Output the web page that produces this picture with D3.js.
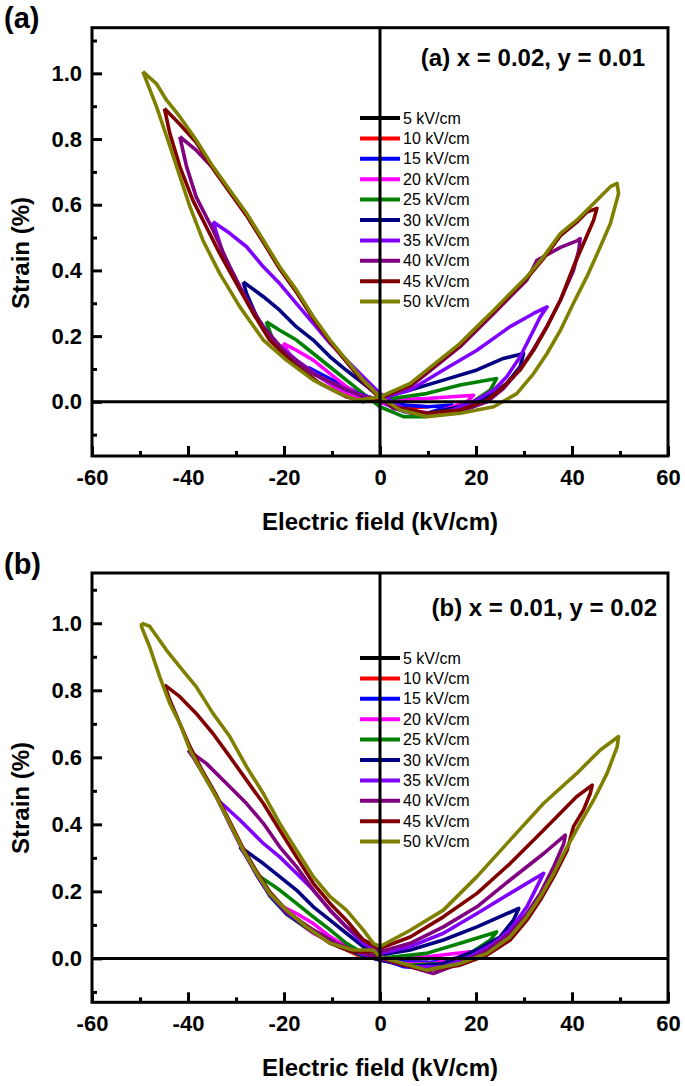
<!DOCTYPE html>
<html><head><meta charset="utf-8">
<script src="https://cdn.jsdelivr.net/npm/d3@7"></script>
<style>body{margin:0;background:#fff}text{font-family:"Liberation Sans",Arial,sans-serif}</style>
</head><body><svg id="c" width="685" height="1086"></svg>
<script>
// ---------- data ----------
const fieldLabels = ["5 kV/cm","10 kV/cm","15 kV/cm","20 kV/cm","25 kV/cm","30 kV/cm","35 kV/cm","40 kV/cm","45 kV/cm","50 kV/cm"];
const seriesColors = ["#000000","#ff0000","#0000ff","#ff00ff","#008000","#000080","#8000ff","#800080","#800000","#808000"];
const xMajorTicks = [-60,-40,-20,0,20,40,60];
const xMinorTicks = [-50,-30,-10,10,30,50];
const yMajorTicks = [0,0.2,0.4,0.6,0.8,1.0];
const yMinorTicks = [-0.1,0.1,0.3,0.5,0.7,0.9,1.1];
const panelLetters = ["(a)","(b)"];
const compositions = ["(a) x = 0.02, y = 0.01","(b) x = 0.01, y = 0.02"];
const xTitle = "Electric field (kV/cm)";
const yTitle = "Strain (%)";

// panel (a) loops  [E (kV/cm), strain (%)]
const a5 = [[-5,0.012],[0,0],[5,-0.01],[0,0.003],[-5,0.012]];
const a10 = [[-10,0.05],[-5,0.02],[0,0],[5,-0.02],[10,-0.015],[5,-0.012],[0,0.002],[-5,0.014],[-10,0.05]];
const a15 = [[-15,0.105],[-10.4,0.07],[-5,0.03],[0,0],[5,-0.03],[10,-0.035],[15,-0.01],[10,-0.015],[5,-0.01],[0,0.005],[-5,0.02],[-10.4,0.055],[-15,0.105]];
const a20 = [[-20.2,0.178],[-17.4,0.157],[-13.9,0.127],[-10.4,0.086],[-7,0.046],[-3.5,0.015],[0,0],[4.9,-0.025],[11.1,-0.035],[18.1,0],[19.5,0.02],[9.7,0.01],[0,0.005],[-3.5,0.01],[-8.3,0.036],[-13.9,0.086],[-18.1,0.127],[-20.2,0.178]];
const a25 = [[-23.7,0.244],[-20.9,0.218],[-17.4,0.188],[-13.9,0.147],[-10.4,0.106],[-7,0.066],[-3.5,0.025],[0,-0.015],[4.9,-0.045],[9.7,-0.045],[18.8,-0.005],[23,0.036],[24.3,0.071],[16.7,0.051],[9.7,0.025],[0,0.005],[-3.5,0.015],[-8.3,0.046],[-13.9,0.086],[-18.8,0.137],[-22.3,0.188],[-23.7,0.244]];
const a30 = [[-28.5,0.365],[-24.3,0.32],[-20.9,0.279],[-17.4,0.228],[-13.9,0.188],[-10.4,0.137],[-7,0.096],[-3.5,0.056],[0,0.015],[2.8,-0.015],[9.7,-0.035],[16.7,-0.015],[22.3,0.015],[26.4,0.056],[29.2,0.107],[29.9,0.147],[25.7,0.132],[20.2,0.097],[13.2,0.066],[6.3,0.036],[0,0.01],[-1.4,0.01],[-7,0.036],[-13.9,0.086],[-19.5,0.147],[-23.7,0.208],[-25.7,0.259],[-27.8,0.33],[-28.5,0.365]];
const a35 = [[-34.8,0.548],[-31.3,0.513],[-27.8,0.472],[-24.3,0.411],[-20.9,0.36],[-17.4,0.299],[-13.9,0.239],[-10.4,0.178],[-7,0.127],[-3.5,0.076],[0,0.025],[6.3,-0.035],[13.2,-0.035],[18.8,-0.005],[23.7,0.036],[26.4,0.076],[29.2,0.137],[31.3,0.198],[33.4,0.259],[34.8,0.289],[32,0.269],[27.1,0.229],[20.2,0.157],[13.2,0.097],[6.3,0.036],[0,0.01],[-1.4,0.01],[-7,0.036],[-12.5,0.076],[-17.4,0.127],[-22.3,0.188],[-25.7,0.259],[-29.2,0.35],[-32.7,0.452],[-34.8,0.548]];
const a40 = [[-41.7,0.807],[-38.3,0.766],[-34.8,0.712],[-31.3,0.64],[-27.8,0.569],[-24.3,0.487],[-20.9,0.406],[-17.4,0.335],[-13.9,0.254],[-10.4,0.183],[-7,0.122],[-3.5,0.061],[0,0.012],[2.8,-0.02],[9.7,-0.04],[16.7,-0.03],[22.3,0],[25.7,0.04],[29.2,0.1],[32,0.16],[34.8,0.23],[37.6,0.31],[40.3,0.4],[41.4,0.46],[41.7,0.497],[41,0.49],[37.6,0.47],[32.7,0.431],[30.6,0.371],[23.7,0.269],[16.7,0.168],[13.2,0.127],[6.3,0.046],[0,0.01],[-3.5,0.015],[-8.3,0.046],[-13.9,0.086],[-19.5,0.147],[-24.3,0.228],[-27.8,0.31],[-31.3,0.411],[-34.8,0.523],[-38.3,0.624],[-40.3,0.716],[-41.7,0.807]];
const a45 = [[-44.9,0.893],[-41.7,0.845],[-38.3,0.79],[-34.8,0.71],[-31.3,0.638],[-27.8,0.567],[-24.3,0.486],[-20.9,0.405],[-17.4,0.334],[-13.9,0.253],[-10.4,0.183],[-7,0.122],[-3.5,0.061],[0,0.012],[2.8,-0.015],[9.7,-0.035],[16.7,-0.025],[22.3,0.005],[25,0.036],[29.2,0.097],[32,0.157],[34.8,0.229],[37.6,0.31],[40.3,0.411],[42.4,0.482],[44.5,0.553],[45.2,0.589],[43.1,0.578],[41,0.547],[37.6,0.506],[34.1,0.437],[30.6,0.376],[27.1,0.325],[23.7,0.274],[20.2,0.224],[16.7,0.173],[13.2,0.132],[6.3,0.051],[0,0.012],[-3.5,0],[-7,0.015],[-12.5,0.056],[-18.1,0.117],[-23,0.188],[-26.4,0.269],[-29.9,0.36],[-33.4,0.452],[-36.2,0.533],[-39,0.614],[-41.7,0.716],[-43.8,0.818],[-44.9,0.893]];
const a50 = [[-49.4,1.005],[-46.6,0.969],[-44.5,0.919],[-41.7,0.868],[-38.3,0.797],[-34.8,0.716],[-31.3,0.645],[-27.8,0.574],[-24.3,0.492],[-20.9,0.411],[-17.4,0.34],[-13.9,0.259],[-10.4,0.188],[-7,0.127],[-3.5,0.066],[0,0.015],[4.2,-0.025],[9.7,-0.045],[16.7,-0.035],[23.7,-0.015],[28.5,0.025],[32,0.086],[34.8,0.147],[37.6,0.218],[40.3,0.3],[43.1,0.381],[45.9,0.472],[48,0.543],[49.7,0.634],[49.4,0.665],[48,0.655],[44.5,0.604],[41,0.553],[37.6,0.513],[34.1,0.442],[30.6,0.381],[27.1,0.33],[23.7,0.279],[20.2,0.229],[16.7,0.178],[13.2,0.137],[6.3,0.056],[0,0.015],[-4.9,0.005],[-8.3,0.025],[-13.9,0.066],[-19.5,0.127],[-24.3,0.188],[-29.2,0.289],[-33.4,0.391],[-36.9,0.492],[-39.6,0.594],[-44.2,0.797],[-46.6,0.9],[-49,0.99],[-49.4,1.005]];

// panel (b) loops
const b5 = [[-5,0.012],[0,0],[5,-0.01],[0,0.003],[-5,0.012]];
const b10 = [[-10,0.045],[-5,0.018],[0,0],[5,-0.02],[10,-0.012],[5,-0.01],[0,0.002],[-5,0.012],[-10,0.045]];
const b15 = [[-15,0.09],[-10.4,0.058],[-5,0.025],[0,0],[5,-0.025],[10,-0.03],[15,-0.005],[10,-0.012],[5,-0.01],[0,0.003],[-5,0.016],[-10.4,0.048],[-15,0.09]];
const b20 = [[-20.2,0.154],[-17.4,0.134],[-13.9,0.104],[-10.4,0.065],[-7,0.035],[-3.5,0.015],[0,0],[9.7,0.005],[18.8,0.02],[16.7,0.005],[11.1,-0.015],[4.9,-0.015],[0,-0.005],[-3.5,0.008],[-8.3,0.033],[-13.9,0.075],[-18.1,0.119],[-20.2,0.154]];
const b25 = [[-25,0.244],[-20.9,0.204],[-17.4,0.164],[-13.9,0.124],[-10.4,0.085],[-7,0.045],[-3.5,0.015],[0,0],[9.7,0.015],[16.7,0.045],[24.3,0.079],[23,0.055],[18.8,0.015],[13.2,-0.015],[6.3,-0.02],[0,-0.005],[-3.5,0.008],[-8.3,0.033],[-13.9,0.078],[-19.5,0.132],[-23,0.187],[-25,0.244]];
const b30 = [[-29.2,0.333],[-24.3,0.283],[-20.9,0.244],[-17.4,0.204],[-13.9,0.154],[-10.4,0.114],[-7,0.075],[-3.5,0.035],[0,0.01],[6.3,0.025],[13.2,0.055],[20.2,0.094],[28.9,0.149],[27.8,0.114],[25,0.064],[20.2,0.025],[13.2,-0.015],[6.3,-0.025],[0,-0.005],[-3.5,0.01],[-8.3,0.035],[-13.9,0.08],[-19.5,0.134],[-23,0.189],[-25.7,0.249],[-27.8,0.303],[-29.2,0.333]];
const b35 = [[-33.7,0.472],[-29.2,0.413],[-24.3,0.343],[-20.9,0.303],[-17.4,0.254],[-13.9,0.204],[-10.4,0.144],[-7,0.094],[-3.5,0.045],[0,0.015],[6.3,0.035],[13.2,0.075],[20.2,0.134],[27.1,0.194],[34.1,0.254],[32.7,0.214],[30.6,0.154],[27.1,0.085],[23.7,0.045],[18.8,0.005],[13.2,-0.025],[6.3,-0.025],[0,0],[-3.5,0.012],[-8.3,0.037],[-13.9,0.082],[-19.5,0.136],[-23,0.191],[-25.7,0.251],[-28.5,0.32],[-31.3,0.4],[-33.7,0.472]];
const b40 = [[-40,0.622],[-36.2,0.582],[-31.3,0.512],[-27.8,0.462],[-24.3,0.403],[-20.9,0.333],[-17.4,0.274],[-13.9,0.204],[-10.4,0.144],[-7,0.094],[-3.5,0.055],[0,0.02],[6.3,0.045],[13.2,0.094],[20.2,0.154],[27.1,0.234],[34.1,0.313],[38.6,0.368],[38.3,0.343],[36.2,0.274],[33.4,0.194],[30.6,0.134],[27.1,0.075],[22.3,0.025],[16.7,-0.015],[11.1,-0.045],[6.3,-0.025],[0,0],[-3.5,0.015],[-8.3,0.04],[-13.9,0.085],[-19.5,0.139],[-23,0.194],[-25.7,0.254],[-28.5,0.323],[-31.3,0.403],[-34.1,0.482],[-36.9,0.552],[-39,0.602],[-40,0.622]];
const b45 = [[-44.9,0.816],[-41.7,0.781],[-38.3,0.731],[-34.8,0.671],[-31.3,0.602],[-27.8,0.532],[-24.3,0.462],[-20.9,0.383],[-17.4,0.303],[-13.9,0.224],[-10.4,0.164],[-7,0.114],[-3.5,0.055],[0,0.03],[6.3,0.064],[13.2,0.124],[20.2,0.194],[27.1,0.283],[34.1,0.383],[41,0.483],[44.2,0.517],[43.8,0.492],[42.4,0.443],[40.3,0.393],[39,0.323],[36.2,0.244],[33.4,0.174],[30.6,0.114],[27.1,0.055],[22.3,0.01],[16.7,-0.02],[9.7,-0.035],[4.9,-0.02],[0,0.005],[-1.4,0.02],[-5.6,0.02],[-10.4,0.045],[-15.3,0.094],[-19.5,0.144],[-23,0.199],[-25.7,0.259],[-28.5,0.328],[-31.3,0.408],[-34.1,0.487],[-36.9,0.557],[-39.6,0.632],[-41.7,0.701],[-43.8,0.771],[-44.9,0.816]];
const b50 = [[-49.7,1.0],[-48,0.991],[-44.5,0.92],[-41.7,0.87],[-38.3,0.811],[-34.8,0.731],[-31.3,0.662],[-27.8,0.572],[-24.3,0.492],[-20.9,0.403],[-17.4,0.323],[-13.9,0.244],[-10.4,0.184],[-7,0.144],[-3.5,0.085],[-1.4,0.045],[0,0.035],[6.3,0.084],[13.2,0.144],[20.2,0.244],[27.1,0.353],[34.1,0.463],[41,0.552],[45.9,0.622],[49.7,0.662],[49.4,0.631],[47.3,0.552],[44.5,0.472],[41.7,0.403],[39,0.333],[36.2,0.254],[33.4,0.184],[30.6,0.124],[27.1,0.064],[22.3,0.015],[16.7,-0.015],[9.7,-0.035],[4.9,-0.015],[0,0.005],[-1.4,0.025],[-5.6,0.025],[-10.4,0.045],[-15.3,0.094],[-19.5,0.144],[-23,0.194],[-25.7,0.254],[-28.5,0.323],[-31.3,0.403],[-34.1,0.482],[-36.9,0.552],[-39.6,0.622],[-41.7,0.701],[-43.8,0.761],[-45.9,0.841],[-48,0.93],[-49.7,0.99],[-49.7,1.0]];

const loopsA = [a5,a10,a15,a20,a25,a30,a35,a40,a45,a50];
const loopsB = [b5,b10,b15,b20,b25,b30,b35,b40,b45,b50];
const yDomainA = [-0.165, 1.139];
const yDomainB = [-0.131, 1.150];
const xDomain = [-60, 60];

// ---------- layout ----------
const layout = [
  {loops: loopsA, yDomain: yDomainA, top: 27.7, bottom: 456, legendY: 118, letterY: 28, compY: 65.5, compX: 645, ytitleY: 253, xlabY: 530},
  {loops: loopsB, yDomain: yDomainB, top: 573, bottom: 1002.3, legendY: 658, letterY: 574, compY: 616, compX: 657, ytitleY: 798, xlabY: 1076}
];
const left = 92, right = 668;
const svg = d3.select("#c");

layout.forEach((p, pi) => {
  const g = svg.append("g");
  const x = d3.scaleLinear().domain(xDomain).range([left, right]);
  const y = d3.scaleLinear().domain(p.yDomain).range([p.bottom, p.top]);

  const line = d3.line().x(d => x(d[0])).y(d => y(d[1]));
  g.selectAll("path.loop").data(p.loops).join("path")
    .attr("class","loop")
    .attr("d", line)
    .attr("fill","none")
    .attr("stroke",(d,i)=>seriesColors[i])
    .attr("stroke-width",3.6)
    .attr("stroke-linejoin","round");

  // legend
  const lg = g.append("g");
  fieldLabels.forEach((lab, i) => {
    const yy = p.legendY + i*20.4;
    lg.append("line").attr("x1",360).attr("x2",400).attr("y1",yy).attr("y2",yy)
      .attr("stroke",seriesColors[i]).attr("stroke-width",4);
    lg.append("text").attr("x",403).attr("y",yy).attr("dy","0.35em")
      .attr("font-size",16).attr("fill","#000").text(lab);
  });

  // zero lines
  g.append("line").attr("x1",left).attr("x2",right).attr("y1",y(0)).attr("y2",y(0))
    .attr("stroke","#000").attr("stroke-width",3);
  g.append("line").attr("x1",x(0)).attr("x2",x(0)).attr("y1",p.top).attr("y2",p.bottom)
    .attr("stroke","#000").attr("stroke-width",3);

  // axes
  const styleAxis = sel => {
    sel.select(".domain").remove();
    sel.selectAll("line").attr("stroke","#000").attr("stroke-width",3);
    sel.selectAll("text").attr("font-size",22).attr("font-weight","bold").attr("fill","#000")
      .attr("font-family","'Liberation Sans',Arial,sans-serif");
  };
  g.append("g").attr("transform",`translate(0,${p.bottom})`)
    .call(d3.axisBottom(x).tickValues(xMajorTicks).tickSize(-10).tickPadding(13).tickFormat(d => String(d)))
    .call(styleAxis);
  g.append("g").attr("transform",`translate(0,${p.bottom})`)
    .call(d3.axisBottom(x).tickValues(xMinorTicks).tickSize(-5).tickFormat(""))
    .call(styleAxis);
  g.append("g").attr("transform",`translate(${left},0)`)
    .call(d3.axisLeft(y).tickValues(yMajorTicks).tickSize(-10).tickPadding(10).tickFormat(d => d.toFixed(1)))
    .call(styleAxis);
  g.append("g").attr("transform",`translate(${left},0)`)
    .call(d3.axisLeft(y).tickValues(yMinorTicks).tickSize(-5).tickFormat(""))
    .call(styleAxis);

  // frame
  g.append("rect").attr("x",left).attr("y",p.top).attr("width",right-left).attr("height",p.bottom-p.top)
    .attr("fill","none").attr("stroke","#000").attr("stroke-width",3);

  // texts
  g.append("text").attr("x",4).attr("y",p.letterY).attr("font-size",29).attr("font-weight","bold").text(panelLetters[pi]);
  g.append("text").attr("x",p.compX).attr("y",p.compY).attr("text-anchor","end")
    .attr("font-size",24).attr("font-weight","bold").text(compositions[pi]);
  g.append("text").attr("x",x(0)).attr("y",p.xlabY).attr("text-anchor","middle")
    .attr("font-size",24).attr("font-weight","bold").text(xTitle);
  g.append("text").attr("transform",`translate(29,${p.ytitleY}) rotate(-90)`).attr("text-anchor","middle")
    .attr("font-size",24).attr("font-weight","bold").text(yTitle);
});
</script></body></html>
